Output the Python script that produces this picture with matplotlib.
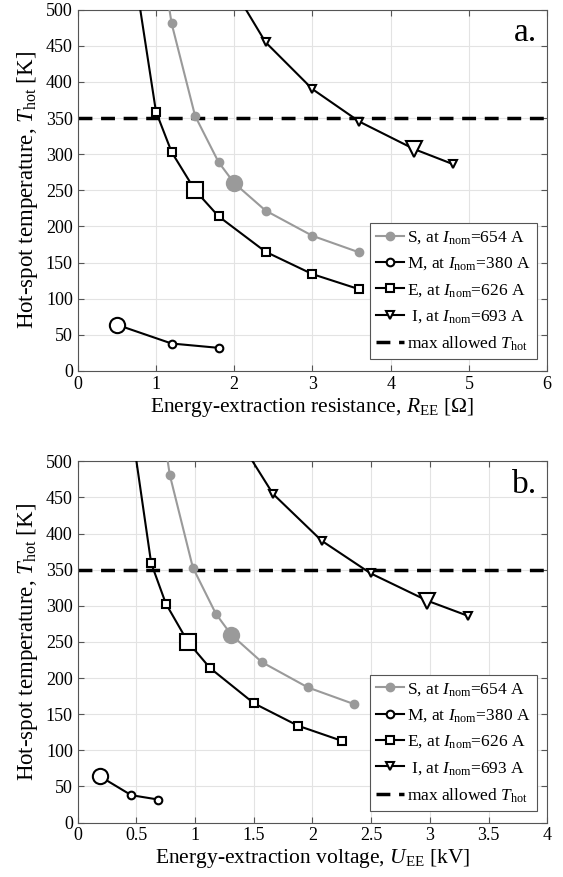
import matplotlib
matplotlib.use("Agg")
import matplotlib.pyplot as plt

plt.rcParams["font.family"] = ["Liberation Serif", "DejaVu Serif"]
plt.rcParams["mathtext.fontset"] = "custom"
plt.rcParams["mathtext.rm"] = "Liberation Serif"
plt.rcParams["mathtext.it"] = "Liberation Serif:italic"

# currents [A] for each magnet circuit
currents = {"S": 654, "M": 380, "E": 626, "I": 693}

# resistance [Ohm] and hot-spot temperature [K] per series
r_S = [1.0, 1.2, 1.5, 1.8, 2.0, 2.4, 3.0, 3.6]
t_S = [620, 481, 353, 289, 260, 222, 187, 164]
r_M = [0.5, 1.2, 1.8]
t_M = [64, 38, 32]
r_E = [0.5, 1.0, 1.2, 1.5, 1.8, 2.4, 3.0, 3.6]
t_E = [711, 359, 303, 250, 214, 165, 134, 113]
r_I = [1.8, 2.4, 3.0, 3.6, 4.3, 4.8]
t_I = [563, 455, 390, 345, 307, 286]

# highlighted (chosen) operating points
sel_S = (2.0, 260)
sel_M = (0.5, 64)
sel_E = (1.5, 250)
sel_I = (4.3, 307)

t_max = 350

GRAY = "#9a9a9a"
series = [
    ("S", r_S, t_S, sel_S, GRAY, "o", GRAY),
    ("M", r_M, t_M, sel_M, "k", "o", "white"),
    ("E", r_E, t_E, sel_E, "k", "s", "white"),
    ("I", r_I, t_I, sel_I, "k", "v", "white"),
]
labels = {"S": "S, at $I_{\\rm nom}$=654 A",
          "M": "M, at $I_{\\rm nom}$=380 A",
          "E": "E, at $I_{\\rm nom}$=626 A",
          "I": " I, at $I_{\\rm nom}$=693 A"}

fig = plt.figure(figsize=(5.63, 8.77), dpi=100)
ax_a = fig.add_axes([0.138, 0.577, 0.834, 0.412])
ax_b = fig.add_axes([0.138, 0.062, 0.834, 0.412])


def draw(ax, use_voltage):
    for name, r, t, sel, col, mk, fc in series:
        scale = currents[name] / 1000.0 if use_voltage else 1.0
        x = [v * scale for v in r]
        ax.plot(x, t, color=col, lw=1.5, marker=mk, ms=5.5,
                mfc=fc, mec=col, mew=1.5, label=labels[name], zorder=3)
        ax.plot([sel[0] * scale], [sel[1]], ls="none", marker=mk, ms=11,
                mfc=fc, mec=col, mew=1.5, zorder=4)
    ax.axhline(t_max, color="k", lw=2.5, ls=(0, (4, 2.5)),
               label="max allowed $T_{\\rm hot}$", zorder=2)
    ax.set_ylim(0, 500)
    ax.set_yticks(range(0, 501, 50))
    ax.grid(True, color="#e3e3e3", lw=0.8)
    ax.set_axisbelow(True)
    ax.tick_params(direction="in", top=True, right=True, labelsize=13,
                   color="#555555", length=4)
    for s in ax.spines.values():
        s.set_color("#555555")
        s.set_linewidth(0.8)
    ax.set_ylabel("Hot-spot temperature, $T_{\\rm hot}$ [K]", fontsize=16.5,
                  labelpad=4)
    leg = ax.legend(loc="lower right", bbox_to_anchor=(0.978, 0.033),
                    borderaxespad=0, fontsize=12.5, handlelength=1.6,
                    handletextpad=0.2, labelspacing=0.55, fancybox=False,
                    framealpha=1, edgecolor="#555555", borderpad=0.35)
    leg.get_frame().set_linewidth(0.8)


draw(ax_a, False)
ax_a.set_xlim(0, 6)
ax_a.set_xticks(range(0, 7))
ax_a.set_xlabel("Energy-extraction resistance, $R_{\\rm EE}$ [$\\Omega$]",
                fontsize=15.5, labelpad=2)
ax_a.text(0.979, 0.912, "a.", transform=ax_a.transAxes, ha="right",
          va="baseline", fontsize=24)

draw(ax_b, True)
ax_b.set_xlim(0, 4)
ax_b.set_xticks([0, 0.5, 1, 1.5, 2, 2.5, 3, 3.5, 4])
ax_b.set_xticklabels(["0", "0.5", "1", "1.5", "2", "2.5", "3", "3.5", "4"])
ax_b.set_xlabel("Energy-extraction voltage, $U_{\\rm EE}$ [kV]",
                fontsize=15.5, labelpad=2)
ax_b.text(0.979, 0.912, "b.", transform=ax_b.transAxes, ha="right",
          va="baseline", fontsize=24)

fig.savefig("out.png", dpi=100)
